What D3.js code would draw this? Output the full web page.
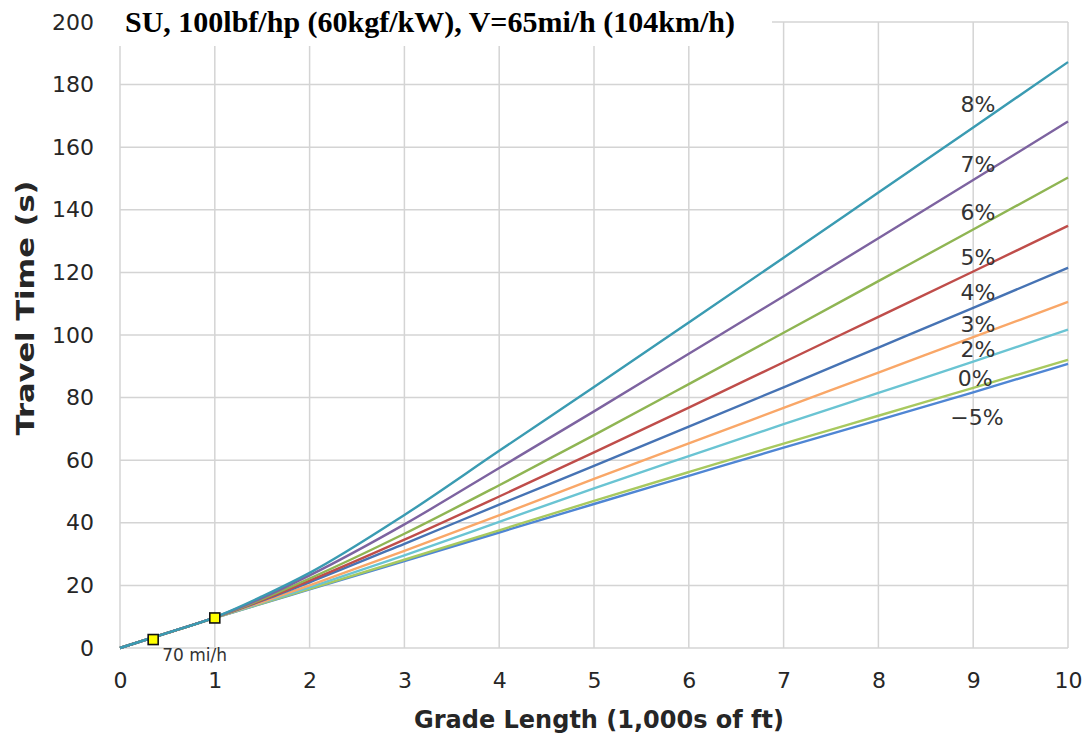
<!DOCTYPE html>
<html>
<head>
<meta charset="utf-8">
<script src="https://cdn.jsdelivr.net/npm/d3@7"></script>
<style>
  body { margin: 0; background: #fff; overflow: hidden; }
  svg { display: block; }
</style>
</head>
<body>
<svg id="chart"></svg>
<script>
// grade length (1,000s of ft) where travel times were read
const gradeLength = [0, 0.5, 1, 1.5, 2, 3, 4, 5, 6, 7, 8, 9, 10];

// travel time (s) per grade
const timeMinus5 = [0, 4.8, 9.6, 14.2, 18.7, 27.8, 36.9, 46.0, 55.0, 64.0, 72.8, 81.7, 90.8];
const time0 = [0, 4.8, 9.6, 14.3, 18.9, 28.2, 37.6, 47.0, 56.2, 65.3, 74.2, 83.1, 92.1];
const time2 = [0, 4.8, 9.6, 14.5, 19.4, 29.6, 40.3, 51.0, 61.3, 71.5, 81.5, 91.5, 101.7];
const time3 = [0, 4.8, 9.6, 14.7, 20.0, 31.0, 42.4, 54.0, 65.4, 76.7, 88.0, 99.3, 110.6];
const time4 = [0, 4.8, 9.7, 15.1, 21.0, 33.3, 45.8, 58.2, 70.7, 83.3, 96.0, 108.7, 121.5];
const time5 = [0, 4.8, 9.7, 15.3, 21.5, 34.6, 48.4, 62.5, 76.8, 91.3, 105.8, 120.3, 134.9];
const time6 = [0, 4.8, 9.7, 15.6, 22.2, 36.5, 52.0, 68.0, 84.3, 100.7, 117.2, 133.7, 150.3];
const time7 = [0, 4.8, 9.8, 16.0, 23.2, 39.5, 57.5, 75.6, 94.0, 112.4, 130.9, 149.5, 168.2];
const time8 = [0, 4.8, 9.8, 16.5, 24.0, 42.5, 63.0, 83.4, 104.0, 124.7, 145.5, 166.3, 187.2];

const gradeNames = ['8%', '7%', '6%', '5%', '4%', '3%', '2%', '0%', '\u22125%'];
const gradeTimes = [time8, time7, time6, time5, time4, time3, time2, time0, timeMinus5];
const gradeColors = ['#3a9bb2', '#7d63a0', '#8fb553', '#bf4d4a', '#4673b4', '#f9a768', '#6ac4d3', '#a8c95f', '#4f86d4'];

// where each grade name sits (in chart units)
const labelAtX = [9.05, 9.05, 9.05, 9.05, 9.05, 9.05, 9.05, 9.02, 9.04];
const labelAtY = [173.6, 154.4, 139.1, 124.7, 113.5, 103.3, 95.3, 86.3, 73.8];

// 70 mi/h marker points
const markerX = [0.35, 1.0];
const markerY = [2.7, 9.6];

const xTicks = [0, 1, 2, 3, 4, 5, 6, 7, 8, 9, 10];
const yTicks = [0, 20, 40, 60, 80, 100, 120, 140, 160, 180, 200];

const title = 'SU, 100lbf/hp (60kgf/kW), V=65mi/h (104km/h)';

const width = 1087, height = 743;
const margin = { top: 22, right: 19, bottom: 95, left: 120 };
const innerWidth = width - margin.left - margin.right;
const innerHeight = height - margin.top - margin.bottom;

const svg = d3.select('#chart')
    .attr('width', width)
    .attr('height', height)
    .attr('viewBox', `0 0 ${width} ${height}`);

const g = svg.append('g')
    .attr('transform', `translate(${margin.left},${margin.top})`);

const x = d3.scaleLinear().domain([0, 10]).range([0, innerWidth]);
const y = d3.scaleLinear().domain([0, 200]).range([innerHeight, 0]);

// Gridlines
g.append('g')
    .selectAll('line')
    .data(yTicks)
    .join('line')
    .attr('x1', 0).attr('x2', innerWidth)
    .attr('y1', d => y(d)).attr('y2', d => y(d))
    .attr('stroke', '#d4d4d4')
    .attr('stroke-width', 1.5);

g.append('g')
    .selectAll('line')
    .data(xTicks)
    .join('line')
    .attr('x1', d => x(d)).attr('x2', d => x(d))
    .attr('y1', 0).attr('y2', innerHeight)
    .attr('stroke', '#d4d4d4')
    .attr('stroke-width', 1.5);

// Axes (text only)
const xAxis = g.append('g')
    .attr('transform', `translate(0,${innerHeight})`)
    .call(d3.axisBottom(x).tickValues(xTicks).tickSize(0).tickPadding(29).tickFormat(d3.format('d')));
const yAxis = g.append('g')
    .call(d3.axisLeft(y).tickValues(yTicks).tickSize(0).tickPadding(26).tickFormat(d3.format('d')));

[xAxis, yAxis].forEach(a => {
    a.attr('font-size', 22)
        .attr('font-family', '"DejaVu Sans", Verdana, sans-serif');
    a.select('.domain').remove();
    a.selectAll('text').attr('fill', '#262626');
});
xAxis.selectAll('text').attr('dy', '0.5em');

// Lines
const line = d3.line()
    .x((d, i) => x(gradeLength[i]))
    .y(d => y(d))
    .curve(d3.curveMonotoneX);

g.append('g')
    .selectAll('path')
    .data(gradeTimes.slice().reverse())
    .join('path')
    .attr('d', d => line(d))
    .attr('fill', 'none')
    .attr('stroke', (d, i) => gradeColors[gradeColors.length - 1 - i])
    .attr('stroke-width', 2.4);

// Grade labels
g.append('g')
    .selectAll('text')
    .data(gradeNames)
    .join('text')
    .attr('x', (d, i) => x(labelAtX[i]))
    .attr('y', (d, i) => y(labelAtY[i]))
    .attr('dy', '0.35em')
    .attr('text-anchor', 'middle')
    .attr('fill', '#333')
    .attr('font-size', '22px')
    .attr('font-family', '"DejaVu Sans", Verdana, sans-serif')
    .text(d => d);

// Markers
g.append('g')
    .selectAll('rect')
    .data(markerX)
    .join('rect')
    .attr('x', (d) => x(d) - 5)
    .attr('y', (d, i) => y(markerY[i]) - 5)
    .attr('width', 10)
    .attr('height', 10)
    .attr('fill', '#ffff00')
    .attr('stroke', '#111')
    .attr('stroke-width', 1.6);

g.append('text')
    .attr('x', x(markerX[0]) + 9)
    .attr('y', y(markerY[0]) + 21)
    .attr('fill', '#333')
    .attr('font-size', '17px')
    .attr('font-family', '"DejaVu Sans", Verdana, sans-serif')
    .text('70 mi/h');

// Title box covers the top grid strip
svg.append('rect')
    .attr('x', 104).attr('y', 0)
    .attr('width', 668).attr('height', 46)
    .attr('fill', '#fff');

svg.append('text')
    .attr('x', 125)
    .attr('y', 32)
    .attr('fill', '#000')
    .attr('font-size', '30px')
    .attr('font-weight', 'bold')
    .attr('font-family', '"Liberation Serif", "Times New Roman", serif')
    .text(title);

// Axis titles
g.append('text')
    .attr('x', innerWidth / 2 + 5)
    .attr('y', innerHeight + 80)
    .attr('text-anchor', 'middle')
    .attr('fill', '#262626')
    .attr('font-size', '24px')
    .attr('font-weight', 'bold')
    .attr('font-family', '"DejaVu Sans", Verdana, sans-serif')
    .text('Grade Length (1,000s of ft)');

g.append('text')
    .attr('transform', 'rotate(-90)')
    .attr('x', -(308 - margin.top))
    .attr('y', -86)
    .attr('text-anchor', 'middle')
    .attr('fill', '#262626')
    .attr('font-size', '25px')
    .attr('font-weight', 'bold')
    .attr('font-family', '"DejaVu Sans", Verdana, sans-serif')
    .attr('textLength', 255)
    .attr('lengthAdjust', 'spacingAndGlyphs')
    .text('Travel Time (s)');
</script>
</body>
</html>
